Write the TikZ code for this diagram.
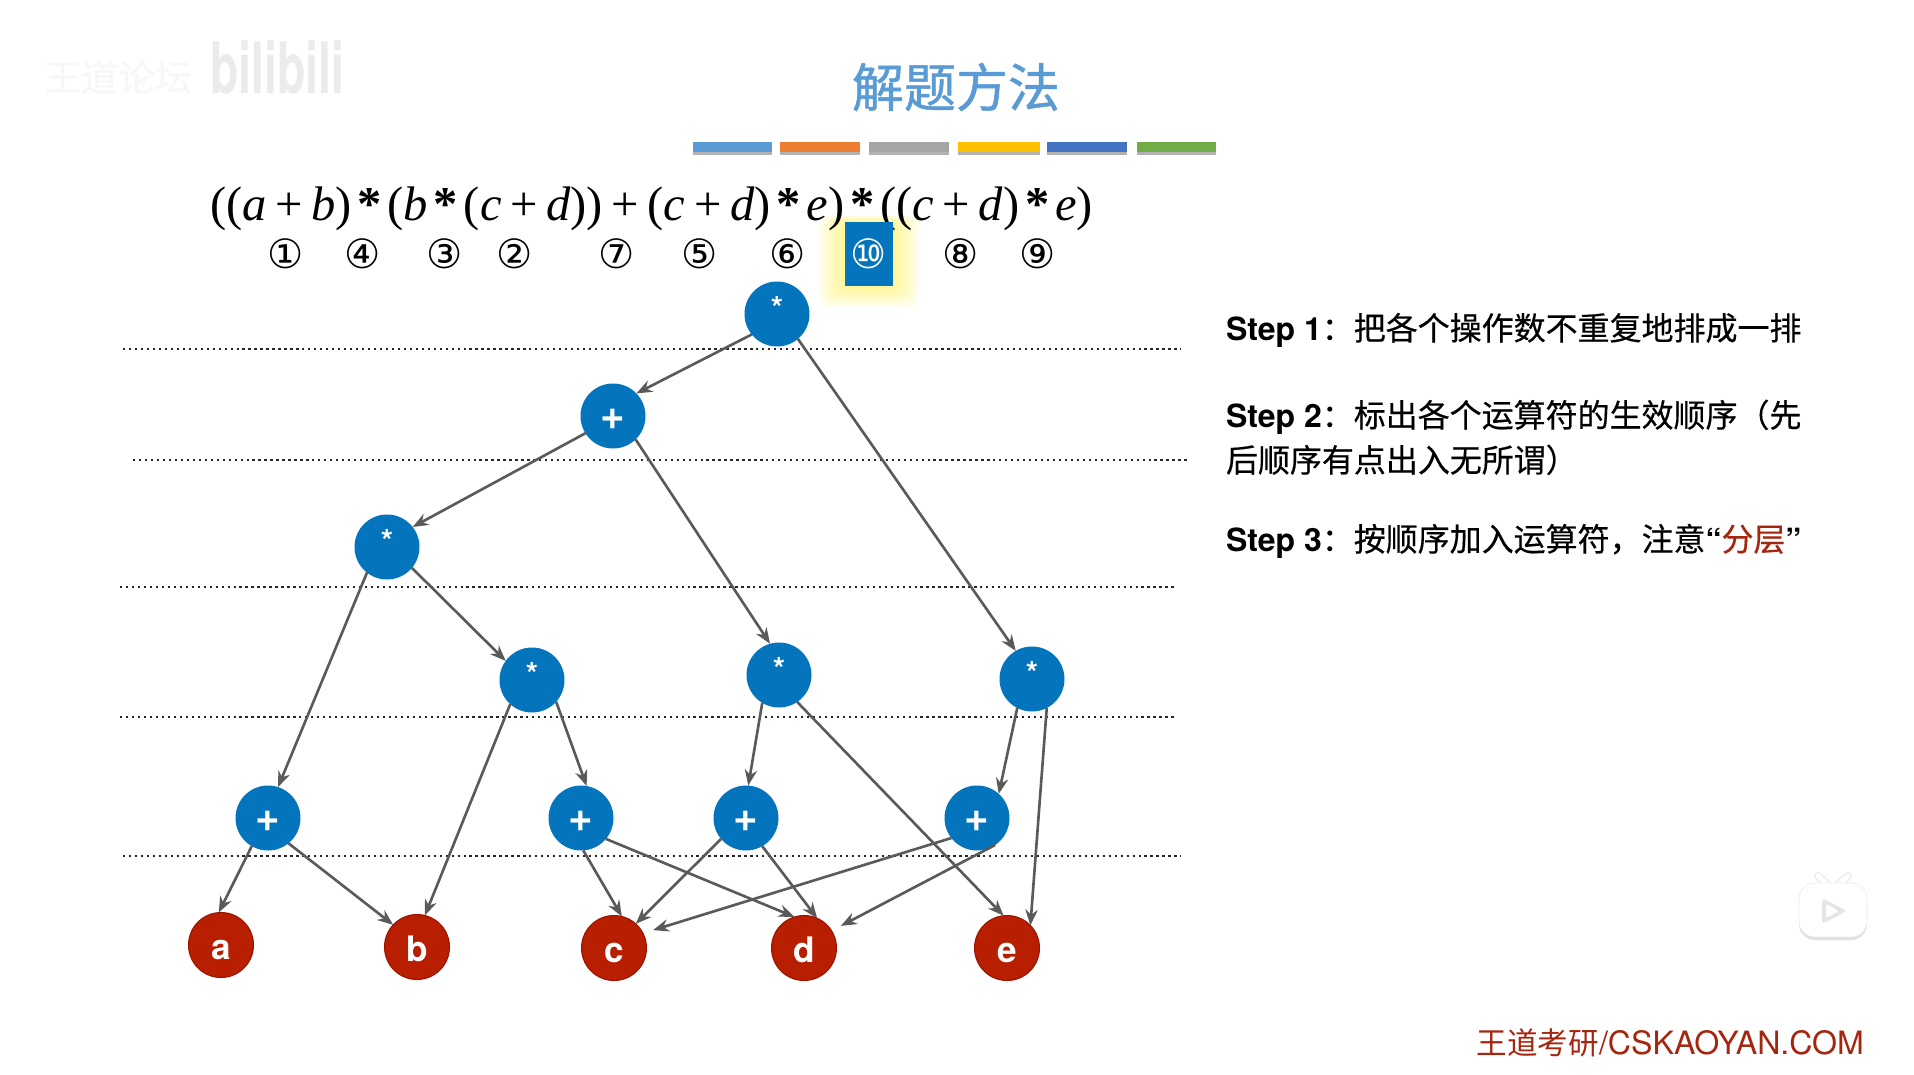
\documentclass[tikz,border=0pt]{standalone}
\usepackage{fontspec}
\setmainfont{Liberation Serif}
\setsansfont{TeX Gyre Heros}
\newfontfamily\cjk{Noto Sans CJK SC}
\newfontfamily\cjkstep[FakeBold=0.4]{Noto Sans CJK SC}
\newfontfamily\cjktitle[FakeBold=1]{Noto Sans CJK SC}
\newfontfamily\circfont{DejaVu Sans}
\usetikzlibrary{arrows.meta}
\definecolor{opblue}{HTML}{0474BC}
\definecolor{varred}{HTML}{B81E00}
\definecolor{varedge}{HTML}{9A1400}
\definecolor{titleblue}{HTML}{5B9BD5}
\definecolor{barblue}{HTML}{5B9BD5}
\definecolor{barorange}{HTML}{ED7D31}
\definecolor{bargray}{HTML}{A5A5A5}
\definecolor{baryellow}{HTML}{FFC000}
\definecolor{barindigo}{HTML}{4472C4}
\definecolor{bargreen}{HTML}{70AD47}
\definecolor{footred}{HTML}{A5260F}
\definecolor{edgegray}{HTML}{5A5A5A}
\newcommand{\fv}[1]{\textit{#1}}
\newcommand{\fp}{\kern.18em+\kern.18em}
\newcommand{\fm}{\kern.12em\textbf{*}\kern.12em}
\newcommand{\stepfont}{\sffamily\bfseries\fontsize{18.2}{25.6}\selectfont}
\newcommand{\stepcn}[1]{{\cjkstep\mdseries #1}}
\begin{document}
\begin{tikzpicture}[x=0.02cm, y=-0.02cm, every node/.style={inner sep=0pt, outer sep=0pt},
	opnode/.style={circle, fill=opblue, minimum size=1.3cm, text=white, font=\sffamily\bfseries\fontsize{18}{18}\selectfont, text height=6pt, text depth=0pt},
	addnode/.style={opnode, font=\sffamily\bfseries\fontsize{24}{24}\selectfont, text height=15.4pt},
	varnode/.style={opnode, fill=varred, draw=varedge, line width=0.6pt, font=\sffamily\bfseries\fontsize{20}{20}\selectfont, text height=17pt},
	link/.style={-{Stealth[length=9pt, width=7pt]}, edgegray, line width=1.5pt},
	layerline/.style={black!85, line width=1.3pt, dash pattern=on 1.3pt off 2.1pt},
	order/.style={font=\circfont\fontsize{23}{23}\selectfont, anchor=center},
	steptext/.style={anchor=base west, align=left, font=\stepfont}]
	\useasboundingbox (0,0) rectangle (1914,1075);
	\fill[white] (0,0) rectangle (1914,1075);

	\node[anchor=center, text=black!8, font=\sffamily\bfseries\fontsize{31}{31}\selectfont] (logotext) at (277,67) {\scalebox{.85}[1.3]{bilibili}};
	\node[anchor=center, text=black!3, font=\cjkstep\fontsize{21}{21}\selectfont] (logocn) at (118,77) {王道论坛};

	\node[anchor=center, text=titleblue, font=\cjktitle\fontsize{29.6}{30}\selectfont] (title) at (956,87) {解题方法};
	\foreach \xa/\xb/\col in {693/772/barblue, 780/860/barorange, 869/949/bargray, 958/1040/baryellow, 1047/1127/barindigo, 1137/1216/bargreen} {
		\fill[black!30] (\xa,152) rectangle (\xb,155);
		\fill[\col] (\xa,142) rectangle (\xb,152);
	}

	\foreach \g in {3,6,...,27} {
		\fill[yellow, opacity=0.05, rounded corners=6pt] (845-\g,222-\g/4) rectangle (893+\g,286+\g*0.8);
	}
	\node[anchor=base west, font=\fontsize{27.6}{28}\selectfont] (formula) at (210,220) {((\fv{a}\fp\fv{b})\fm(\fv{b}\fm(\fv{c}\fp\fv{d}))\fp(\fv{c}\fp\fv{d})\fm\fv{e})\fm((\fv{c}\fp\fv{d})\fm\fv{e})};

	\node[order] (o1) at (286,254) {①};
	\node[order] (o4) at (363,254) {④};
	\node[order] (o3) at (445,254) {③};
	\node[order] (o2) at (515,254) {②};
	\node[order] (o7) at (617,254) {⑦};
	\node[order] (o5) at (700,254) {⑤};
	\node[order] (o6) at (788,254) {⑥};
	\node[order, fill=opblue, text=white, minimum width=0.96cm, minimum height=1.28cm] (o10) at (869,254) {⑩};
	\node[order] (o8) at (961,254) {⑧};
	\node[order] (o9) at (1038,254) {⑨};

	\draw[layerline] (123,349) -- (1181,349);
	\draw[layerline] (133,460) -- (1189,460);
	\draw[layerline] (120,587) -- (1177,587);
	\draw[layerline] (120,717) -- (1177,717);
	\draw[layerline] (123,856) -- (1181,856);

	\node[opnode] (root) at (777,314) {*};
	\node[addnode] (sum) at (613,416) {+};
	\node[opnode] (mulab) at (387,547) {*};
	\node[opnode] (mulbcd) at (532,680) {*};
	\node[opnode] (mulcde) at (779,675) {*};
	\node[opnode] (mulright) at (1032,679) {*};
	\node[addnode] (addab) at (268,818) {+};
	\node[addnode] (addcd) at (581,818) {+};
	\node[addnode] (addmid) at (746,818) {+};
	\node[addnode] (addright) at (977,818) {+};
	\node[varnode] (a) at (221,945) {a};
	\node[varnode] (b) at (417,947) {b};
	\node[varnode] (c) at (614,948) {c};
	\node[varnode] (d) at (804,948) {d};
	\node[varnode] (e) at (1007,948) {e};

	\draw[link] (root.219) -- (sum.44);
	\draw[link] (root.-50) -- (mulright.120);
	\draw[link] (sum.212) -- (mulab.38);
	\draw[link] (sum.-46) -- (mulcde.106);
	\draw[link] (mulab.232) -- (addab.72);
	\draw[link] (mulab.-40) -- (mulbcd.144);
	\draw[link] (mulbcd.228) -- (b.76);
	\draw[link] (mulbcd.-42) -- (addcd.80);
	\draw[link] (mulcde.239) -- (addmid.86);
	\draw[link] (mulcde.-56) -- (e.96);
	\draw[link] (mulright.243) -- (addright.48);
	\draw[link] (mulright.-63) -- (e.44);
	\draw[link] (addab.240) -- (a.94);
	\draw[link] (addab.-51) -- (b.137);
	\draw[link] (addcd.-86) -- (c.76);
	\draw[link] (addcd.-40) -- (d.107);
	\draw[link] (addmid.220) -- (c.48);
	\draw[link] (addmid.-60) -- (d.66);
	\draw[link, shorten >=6pt] (addright.218) -- (c.27);
	\draw[link, shorten >=6pt] (addright.-56) -- (d.32);

	\node[steptext] (step1) at (1226,340) {Step 1\stepcn{：把各个操作数不重复地排成一排}};
	\node[steptext] (step2) at (1226,472) {Step 2\stepcn{：标出各个运算符的生效顺序（先}\\\stepcn{后顺序有点出入无所谓）}};
	\node[steptext] (step3) at (1226,551) {Step 3\stepcn{：按顺序加入运算符，注意}“\stepcn{\color{footred}分层}”};

	\node[anchor=base east, text=footred, font=\sffamily\fontsize{18.3}{19}\selectfont] (footer) at (1864,1054) {{\cjk\fontsize{17.4}{19}\selectfont 王道考研}/CSKAOYAN.COM};

	\fill[black!12, rounded corners=9pt] (1799,885) rectangle (1867,940);
	\draw[black!8, line width=4.5pt, line cap=round] (1818,876) -- (1828,885) (1848,876) -- (1838,885);
	\draw[white, line width=3pt, line cap=round] (1818,876) -- (1828,885) (1848,876) -- (1838,885);
	\fill[white, draw=black!7, line width=0.4pt, rounded corners=9pt] (1799,883) rectangle (1867,937);
	\fill[black!10, rounded corners=2pt] (1822,898) -- (1847,911) -- (1822,924) -- cycle;
	\fill[white, rounded corners=1pt] (1826,904) -- (1839,911) -- (1826,918) -- cycle;
\end{tikzpicture}
\end{document}
